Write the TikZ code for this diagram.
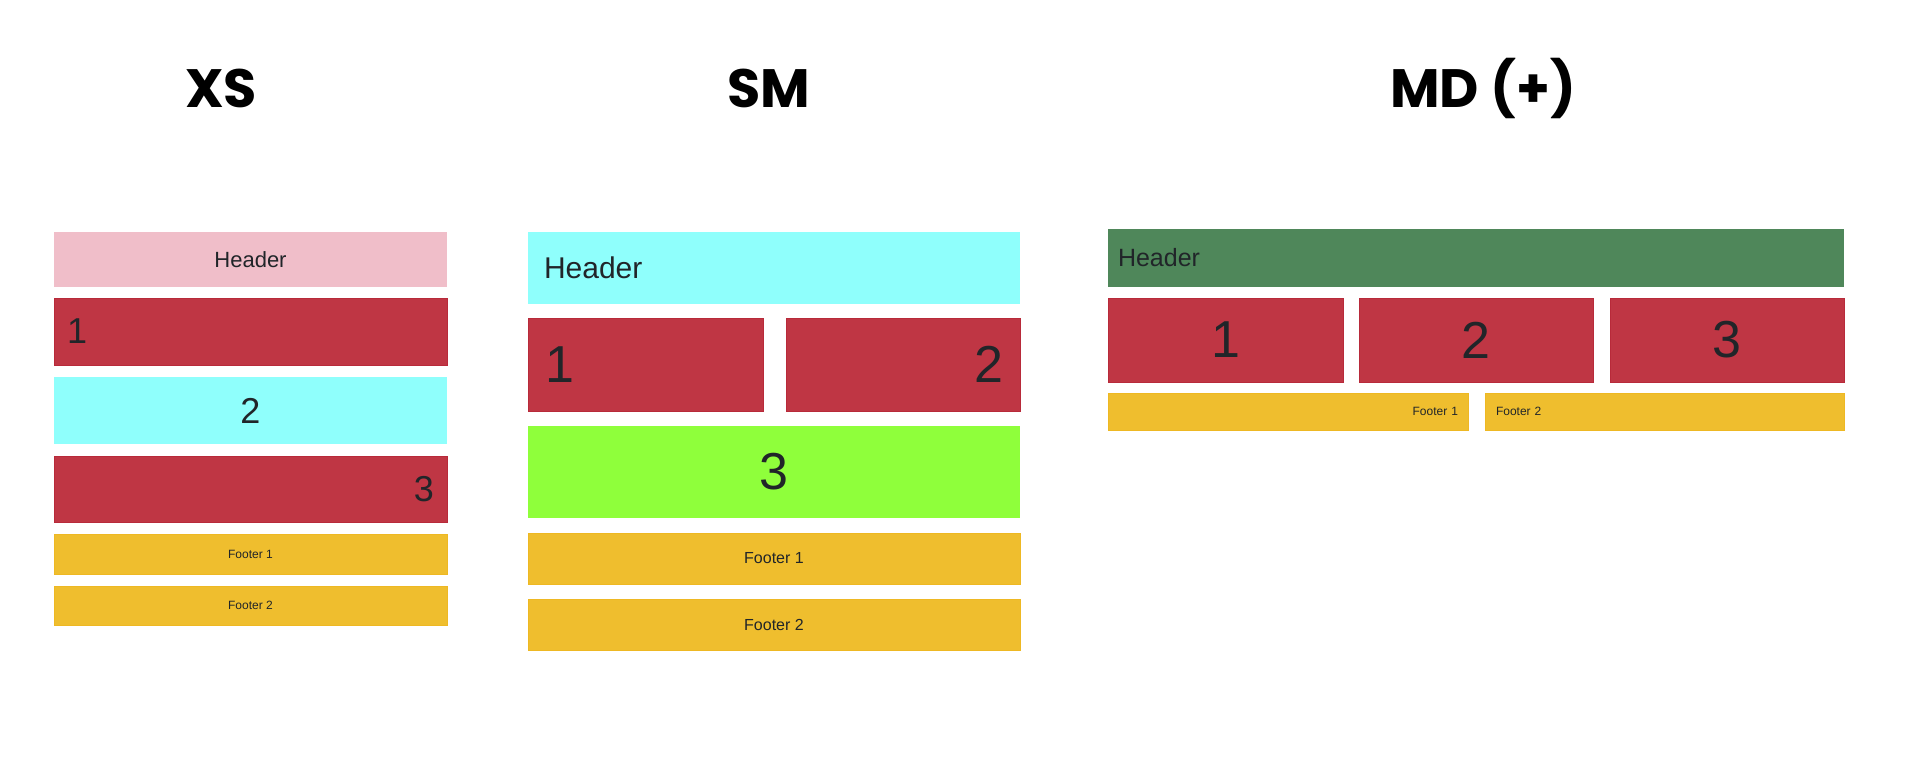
\documentclass[tikz,border=0pt]{standalone}
\usepackage{fontspec}
\setmainfont{Liberation Sans}
\newfontfamily\titlefont{Poppins}
\usetikzlibrary{positioning}

\definecolor{ink}{HTML}{212529}
\definecolor{pinkfill}{HTML}{F0BEC9}
\definecolor{redfill}{HTML}{BF3644}
\definecolor{redline}{HTML}{B82A3A}
\definecolor{cyanfill}{HTML}{8FFFFC}
\definecolor{limefill}{HTML}{8FFF3B}
\definecolor{goldfill}{HTML}{EFBE2E}
\definecolor{goldline}{HTML}{EEB823}
\definecolor{leaffill}{HTML}{4F875A}

\tikzset{
  cell/.style={anchor=north west,inner sep=0pt,outer sep=0pt,text=ink},
  pinkcell/.style={cell,fill=pinkfill},
  redcell/.style={cell,fill=redfill,draw=redline,line width=0.8pt},
  cyancell/.style={cell,fill=cyanfill},
  limecell/.style={cell,fill=limefill},
  goldcell/.style={cell,fill=goldfill,draw=goldline,line width=0.8pt},
  leafcell/.style={cell,fill=leaffill},
  title/.style={anchor=base,font=\titlefont\bfseries\fontsize{54}{58}\selectfont}
}

\begin{document}
\begin{tikzpicture}[x=1pt,y=-1pt]
\useasboundingbox (0,0) rectangle (1920,757);

% titles
\node[title] (xsTitle) at (221,108) {XS};
\node[title] (smTitle) at (769,108) {SM};
\node[title] (mdTitle) at (1483,108) {MD (+)};

% XS column
\node[pinkcell,minimum width=393pt,minimum height=55pt,font=\fontsize{22}{26}\selectfont] (xsHead) at (54,232) {Header};
\node[redcell,minimum width=393pt,minimum height=67pt,inner xsep=13pt,text width=367pt,align=left,font=\fontsize{36}{40}\selectfont] (xsOne) at (54,298) {1};
\node[cyancell,minimum width=393pt,minimum height=67pt,font=\fontsize{36}{40}\selectfont] (xsTwo) at (54,377) {2};
\node[redcell,minimum width=393pt,minimum height=66pt,inner xsep=13pt,text width=367pt,align=right,font=\fontsize{36}{40}\selectfont] (xsThree) at (54,456) {3};
\node[goldcell,minimum width=393pt,minimum height=40pt,font=\fontsize{12}{14}\selectfont] (xsFootA) at (54,534) {Footer 1};
\node[goldcell,minimum width=393pt,minimum height=39pt,font=\fontsize{12}{14}\selectfont] (xsFootB) at (54,586) {Footer 2};

% SM column
\node[cyancell,minimum width=492pt,minimum height=72pt,inner xsep=16pt,text width=460pt,align=left,font=\fontsize{30}{34}\selectfont] (smHead) at (528,232) {Header};
\node[redcell,minimum width=235pt,minimum height=93pt,inner xsep=17pt,text width=201pt,align=left,font=\fontsize{52}{56}\selectfont] (smOne) at (528,318) {1};
\node[redcell,minimum width=234pt,minimum height=93pt,inner xsep=17pt,text width=200pt,align=right,font=\fontsize{52}{56}\selectfont] (smTwo) at (786,318) {2};
\node[limecell,minimum width=492pt,minimum height=92pt,font=\fontsize{52}{56}\selectfont] (smThree) at (528,426) {3};
\node[goldcell,minimum width=492pt,minimum height=51pt,font=\fontsize{16}{18}\selectfont] (smFootA) at (528,533) {Footer 1};
\node[goldcell,minimum width=492pt,minimum height=51pt,font=\fontsize{16}{18}\selectfont] (smFootB) at (528,599) {Footer 2};

% MD column
\node[leafcell,minimum width=736pt,minimum height=58pt,inner xsep=10pt,text width=716pt,align=left,font=\fontsize{25}{28}\selectfont] (mdHead) at (1108,229) {Header};
\node[redcell,minimum width=235pt,minimum height=84pt,font=\fontsize{52}{56}\selectfont] (mdOne) at (1108,298) {1};
\node[redcell,minimum width=234pt,minimum height=84pt,font=\fontsize{52}{56}\selectfont] (mdTwo) at (1359,298) {2};
\node[redcell,minimum width=234pt,minimum height=84pt,font=\fontsize{52}{56}\selectfont] (mdThree) at (1610,298) {3};
\node[goldcell,minimum width=360pt,minimum height=37pt,inner xsep=10pt,text width=340pt,align=right,font=\fontsize{12}{14}\selectfont] (mdFootA) at (1108,393) {Footer 1};
\node[goldcell,minimum width=359pt,minimum height=37pt,inner xsep=11pt,text width=337pt,align=left,font=\fontsize{12}{14}\selectfont] (mdFootB) at (1485,393) {Footer 2};
\end{tikzpicture}
\end{document}
